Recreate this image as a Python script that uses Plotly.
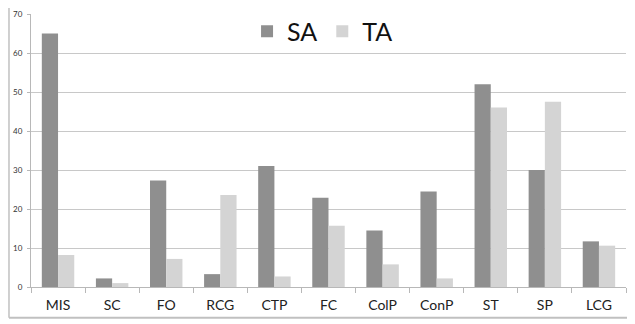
import plotly.graph_objects as go

categories = ["MIS", "SC", "FO", "RCG", "CTP", "FC", "ColP", "ConP", "ST", "SP", "LCG"]
sa_values = [65, 2.2, 27.3, 3.3, 31, 22.9, 14.5, 24.5, 52, 30, 11.7]
ta_values = [8.2, 1.0, 7.2, 23.6, 2.7, 15.7, 5.8, 2.2, 46, 47.5, 10.6]
y_ticks = [0, 10, 20, 30, 40, 50, 60, 70]

fig = go.Figure()
fig.add_trace(go.Bar(name="SA", x=categories, y=sa_values,
                     marker=dict(color="#8f8f8f", line=dict(width=0))))
fig.add_trace(go.Bar(name="TA", x=categories, y=ta_values,
                     marker=dict(color="#d4d4d4", line=dict(width=0))))

# page body has an 8px default margin; size the figure to fit the window
fig.update_layout(
    width=627, height=316,
    margin=dict(l=23, r=9, t=6, b=37, autoexpand=False),
    paper_bgcolor="white", plot_bgcolor="white",
    barmode="group", bargap=0.4, bargroupgap=0,
    showlegend=True,
    legend=dict(orientation="h", x=0.49, xanchor="center", y=1.02, yanchor="top",
                font=dict(family="Lato, Open Sans, sans-serif", size=25, color="#111"),
                bgcolor="rgba(0,0,0,0)", itemwidth=30, traceorder="normal"),
    font=dict(family="Lato, Open Sans, sans-serif"),
)
fig.update_xaxes(
    showline=True, linecolor="#b8b8b8", linewidth=1, automargin=False,
    ticks="outside", tickson="boundaries", ticklen=5, tickcolor="#b8b8b8",
    ticklabelstandoff=5,
    tickfont=dict(size=14, color="#222"), showgrid=False,
)
fig.update_yaxes(
    range=[0, 70], tickvals=y_ticks, showline=True, linecolor="#b8b8b8", linewidth=1,
    automargin=False, ticklabeloverflow="allow",
    ticks="outside", ticklen=3, tickcolor="#b8b8b8", ticklabelstandoff=3,
    showgrid=True, gridcolor="#c8c8c8", gridwidth=1,
    tickfont=dict(size=8, color="#333"), zeroline=False,
)
# outer frame (left and bottom edges visible)
fig.add_shape(type="line", xref="paper", yref="paper", x0=-0.037, x1=1.02, y0=-0.113, y1=-0.113,
              line=dict(color="#c0c0c0", width=2))
fig.add_shape(type="line", xref="paper", yref="paper", x0=-0.037, x1=-0.037, y0=-0.113, y1=1.03,
              line=dict(color="#c0c0c0", width=1.5))

fig.write_html("out.html")
